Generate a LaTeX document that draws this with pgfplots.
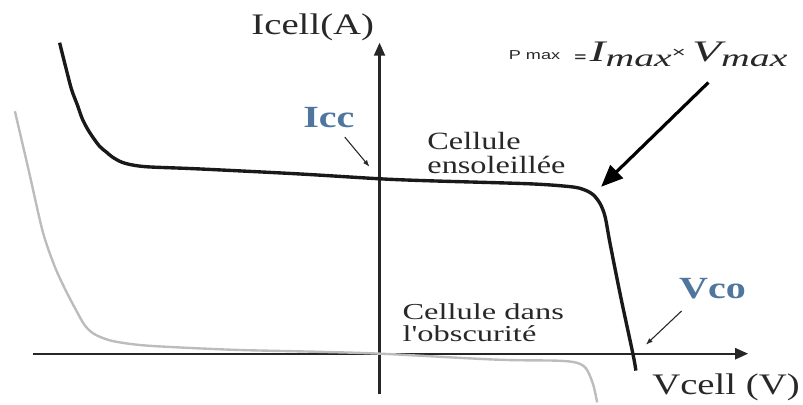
\documentclass[border=0pt]{standalone}
\usepackage{fontspec}
\setmainfont{Liberation Serif}
\setsansfont{Liberation Sans}
\usepackage{graphicx}
\usepackage{pgfplots}
\pgfplotsset{compat=1.18}
\usetikzlibrary{arrows.meta}

\definecolor{lblblue}{RGB}{78,118,158}
\definecolor{darkcurve}{RGB}{25,25,25}
\definecolor{darkcell}{RGB}{188,188,188}
\definecolor{txt}{RGB}{40,40,40}

% characteristic of the illuminated cell
\pgfplotstableread{
v      i
-3.22  3.13
-3.16  2.89
-3.10  2.66
-3.04  2.50
-2.99  2.36
-2.92  2.23
-2.82  2.09
-2.75  2.03
-2.69  1.98
-2.60  1.93
-2.49  1.90
-2.32  1.88
-1.82  1.86
-0.82  1.81
0.01   1.76
0.51   1.74
1.51   1.71
1.93   1.68
2.06   1.65
2.15   1.60
2.22   1.51
2.27   1.38
2.32   1.11
2.43   0.56
2.55   0.00
2.58   -0.17
}\sunlit

% characteristic of the cell in the dark
\pgfplotstableread{
v      i
-3.67  2.44
-3.53  1.84
-3.39  1.23
-3.27  0.88
-3.16  0.64
-3.05  0.43
-2.97  0.29
-2.89  0.21
-2.79  0.16
-2.65  0.12
-2.32  0.08
-1.49  0.04
-0.65  0.02
0.01   0.00
1.18   -0.06
1.78   -0.07
1.98   -0.09
2.08   -0.15
2.15   -0.31
2.19   -0.49
}\dark

\newcommand{\wide}[1]{\scalebox{1.3}[1]{#1}}

\begin{document}
\begin{tikzpicture}
\begin{axis}[
  width=803pt, height=407pt, scale only axis,
  xmin=-3.82, xmax=4.21, ymin=-0.51, ymax=3.56,
  hide axis, clip=false,
]
\path (rel axis cs:0,0) rectangle (rel axis cs:1,1);

% axes
\draw[line width=2.4pt, color=black!85, -{Triangle[length=13pt,width=11pt]}] (axis cs:-3.49,0) -- (axis cs:3.71,0);
\draw[line width=2.2pt, color=black!85, -{Triangle[length=13pt,width=11pt]}] (axis cs:0,-0.41) -- (axis cs:0,3.13);

\addplot[darkcell, line width=2.4pt, smooth, tension=0.5] table[x=v,y=i] {\dark};
\addplot[darkcurve, line width=3.4pt, smooth, tension=0.5] table[x=v,y=i] {\sunlit};

% axis titles
\node[anchor=base east, text=txt, font=\fontsize{30}{30}\selectfont] at (axis cs:-0.02,3.21) {\wide{Icell(A)}};
\node[anchor=base west, text=txt, font=\fontsize{30}{30}\selectfont] at (axis cs:2.71,-0.41) {\wide{Vcell (V)}};

% Icc
\node[anchor=base, text=lblblue, font=\fontsize{31}{31}\selectfont\bfseries] at (axis cs:-0.51,2.28) {\wide{Icc}};
\draw[line width=1.1pt, -{Latex[length=7pt,width=5pt]}, txt] (axis cs:-0.35,2.18) -- (axis cs:-0.10,1.88);

% Vco
\node[anchor=base west, text=lblblue, font=\fontsize{31}{31}\selectfont\bfseries] at (axis cs:2.98,0.56) {\wide{Vco}};
\draw[line width=1.1pt, -{Latex[length=7pt,width=5pt]}, txt] (axis cs:3.04,0.43) -- (axis cs:2.68,0.09);

% curve labels
\node[anchor=base west, text=txt, inner sep=0pt] at (axis cs:0.48,2.06)
  {\scalebox{1.3}[1]{\fontsize{25}{23}\selectfont\begin{tabular}[t]{@{}l@{}}Cellule\\ensoleillée\end{tabular}}};
\node[anchor=base west, text=txt, inner sep=0pt] at (axis cs:0.23,0.34)
  {\scalebox{1.42}[1]{\fontsize{23}{20}\selectfont\begin{tabular}[t]{@{}l@{}}Cellule dans\\l\textquotesingle obscurité\end{tabular}}};

% maximum power point
\node[anchor=base west, text=txt, inner sep=0pt, font=\sffamily\fontsize{13}{13}\selectfont] at (axis cs:1.30,2.96) {\scalebox{1.4}[1]{P max}};
\node[anchor=base west, text=txt, inner sep=0pt] at (axis cs:1.96,2.94) {\scalebox{1.6}[1]{%
  {\sffamily\bfseries\fontsize{13}{13}\selectfont =}\hspace{2pt}%
  {\fontsize{30}{30}\selectfont\itshape I}%
  \raisebox{-5pt}{\fontsize{25}{25}\selectfont\itshape max}%
  \raisebox{4pt}{\sffamily\fontsize{15}{15}\selectfont ×}\hspace{4pt}%
  {\fontsize{30}{30}\selectfont\itshape V}%
  \raisebox{-5pt}{\fontsize{25}{25}\selectfont\itshape max}}};
\draw[line width=3.2pt, black, -{Triangle[length=22pt,width=18pt]}] (axis cs:3.31,2.73) -- (axis cs:2.23,1.68);
\end{axis}
\end{tikzpicture}
\end{document}
